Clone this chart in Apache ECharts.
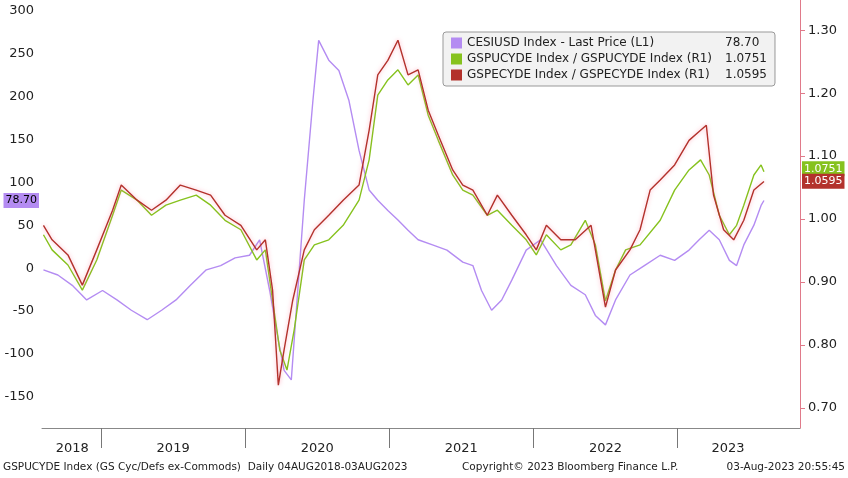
<!DOCTYPE html>
<html><head><meta charset="utf-8">
<script src="https://cdn.jsdelivr.net/npm/echarts@6/dist/echarts.min.js"></script>
<style>html,body{margin:0;padding:0;background:#fff}#c{width:848px;height:478px}</style>
</head><body><div id="c"></div>
<script>
const cesiT=[2018.60,2018.70,2018.80,2018.90,2019.01,2019.11,2019.21,2019.32,2019.42,2019.52,2019.62,2019.73,2019.83,2019.93,2020.03,2020.10,2020.17,2020.23,2020.27,2020.32,2020.36,2020.41,2020.47,2020.51,2020.58,2020.65,2020.72,2020.79,2020.86,2020.92,2020.99,2021.06,2021.13,2021.20,2021.30,2021.40,2021.51,2021.58,2021.64,2021.71,2021.78,2021.85,2021.95,2022.05,2022.16,2022.26,2022.36,2022.43,2022.50,2022.57,2022.67,2022.77,2022.88,2022.98,2023.08,2023.15,2023.22,2023.29,2023.36,2023.41,2023.46,2023.53,2023.58,2023.60];
const cesiV=[-2,-8,-20,-37,-26,-37,-49,-60,-49,-37,-20,-2,3,12,15,33,-26,-84,-119,-130,-37,79,195,265,242,230,195,137,91,79,67,56,44,33,27,21,7,3,-26,-49,-37,-14,21,33,3,-20,-31,-55,-66,-37,-8,3,15,9,21,33,44,33,9,3,27,50,73,78.7];
const cycT=[2018.60,2018.66,2018.77,2018.87,2018.97,2019.08,2019.14,2019.25,2019.35,2019.45,2019.55,2019.66,2019.76,2019.86,2019.97,2020.08,2020.14,2020.19,2020.24,2020.29,2020.34,2020.41,2020.48,2020.58,2020.68,2020.79,2020.86,2020.92,2020.99,2021.06,2021.13,2021.20,2021.27,2021.34,2021.44,2021.51,2021.58,2021.68,2021.75,2021.85,2021.95,2022.02,2022.09,2022.19,2022.26,2022.36,2022.43,2022.50,2022.57,2022.64,2022.74,2022.88,2022.98,2023.08,2023.16,2023.22,2023.29,2023.36,2023.41,2023.46,2023.53,2023.58,2023.60];
const cycV=[0.975,0.951,0.927,0.887,0.935,1.006,1.046,1.030,1.006,1.022,1.030,1.038,1.022,0.998,0.983,0.935,0.951,0.871,0.792,0.760,0.824,0.935,0.959,0.967,0.990,1.030,1.094,1.197,1.221,1.237,1.213,1.229,1.165,1.125,1.070,1.046,1.038,1.006,1.014,0.990,0.967,0.943,0.975,0.951,0.959,0.998,0.959,0.870,0.919,0.951,0.959,0.998,1.046,1.078,1.094,1.070,1.006,0.975,0.990,1.022,1.070,1.086,1.0751];
const euT=[2018.60,2018.66,2018.77,2018.87,2018.97,2019.08,2019.14,2019.25,2019.35,2019.45,2019.55,2019.66,2019.76,2019.86,2019.97,2020.08,2020.14,2020.19,2020.23,2020.27,2020.33,2020.41,2020.48,2020.58,2020.68,2020.79,2020.86,2020.92,2020.99,2021.06,2021.13,2021.20,2021.27,2021.34,2021.44,2021.51,2021.58,2021.68,2021.75,2021.85,2021.95,2022.02,2022.09,2022.19,2022.29,2022.40,2022.50,2022.57,2022.67,2022.74,2022.81,2022.88,2022.98,2023.08,2023.16,2023.20,2023.25,2023.32,2023.39,2023.46,2023.53,2023.60];
const euV=[0.990,0.967,0.943,0.895,0.951,1.014,1.054,1.030,1.014,1.030,1.054,1.046,1.038,1.006,0.990,0.951,0.967,0.887,0.736,0.792,0.871,0.951,0.983,1.006,1.030,1.054,1.141,1.229,1.252,1.284,1.229,1.237,1.173,1.133,1.078,1.054,1.046,1.006,1.038,1.006,0.975,0.951,0.990,0.967,0.967,0.990,0.860,0.919,0.951,0.983,1.046,1.062,1.086,1.125,1.141,1.149,1.038,0.983,0.967,0.998,1.046,1.0595];
const yearTicks=[2019,2020,2021,2022,2023];
const yearLabelPos=[2018.80,2019.5,2020.5,2021.5,2022.5,2023.35];
const leftTicks=[300,250,200,150,100,50,0,-50,-100,-150];
const rightTicks=[1.30,1.20,1.10,1.00,0.90,0.80,0.70];
const names=['CESIUSD Index - Last Price (L1)','GSPUCYDE Index / GSPUCYDE Index (R1)','GSPECYDE Index / GSPECYDE Index (R1)'];
const lastVals=['78.70','1.0751','1.0595'];
const colors=['#b48cf2','#86c21e','#b3322c'];
const zip=(t,v)=>t.map((x,i)=>[x,v[i]]);
const ch=echarts.init(document.getElementById('c'));
function tagLine(val,idx,pos){return {silent:true,symbol:'none',lineStyle:{color:'transparent',width:0},data:[{yAxis:val}],
 label:{show:true,position:pos,distance:idx==0?3:2,formatter:lastVals[idx],backgroundColor:colors[idx],color:idx==0?'#000':'#fff',padding:[2,2],fontSize:11,fontFamily:'DejaVu Sans'}};}
ch.setOption({
 animation:false,
 grid:{left:42,right:48,top:0,bottom:50},
 legend:{orient:'vertical',left:443,top:32,itemWidth:11,itemHeight:11,itemGap:4,icon:'rect',
  backgroundColor:'#f2f2f2',borderColor:'#999',borderWidth:1,borderRadius:3,padding:[5,8],
  textStyle:{fontFamily:'DejaVu Sans',fontSize:12,color:'#222',rich:{n:{width:258,fontFamily:'DejaVu Sans',fontSize:12},v:{fontFamily:'DejaVu Sans',fontSize:12}}},
  formatter:n=>'{n|'+n+'}{v|'+lastVals[names.indexOf(n)]+'}',data:names},
 xAxis:{type:'value',min:2018.59,max:2023.85,
  axisLine:{onZero:false,lineStyle:{color:'#888'}},splitLine:{show:false},
  axisTick:{customValues:yearTicks,length:20,lineStyle:{color:'#777'}},
  axisLabel:{customValues:yearLabelPos,formatter:v=>String(Math.floor(v)),margin:14,fontSize:13,color:'#222',fontFamily:'DejaVu Sans'}},
 yAxis:[{type:'value',min:-186,max:312,position:'left',
   axisLine:{show:false},splitLine:{show:false},axisTick:{show:false},
   axisLabel:{customValues:leftTicks,fontSize:13,color:'#222',fontFamily:'DejaVu Sans'}},
  {type:'value',min:0.668,max:1.348,position:'right',
   axisLine:{show:true,lineStyle:{color:'#e07a8a'}},splitLine:{show:false},
   axisTick:{show:true,customValues:rightTicks,lineStyle:{color:'#e07a8a'}},
   axisLabel:{customValues:rightTicks,formatter:v=>v.toFixed(2),fontSize:13,color:'#222',fontFamily:'DejaVu Sans'}}],
 series:[
  {name:names[0],type:'line',yAxisIndex:0,data:zip(cesiT,cesiV),showSymbol:false,lineStyle:{width:1.4,color:colors[0]},itemStyle:{color:colors[0]},markLine:tagLine(78.7,0,'start')},
  {name:names[1],type:'line',yAxisIndex:1,data:zip(cycT,cycV),showSymbol:false,lineStyle:{width:1.4,color:colors[1]},itemStyle:{color:colors[1]},markLine:tagLine(1.0751,1,'end')},
  {name:names[2],type:'line',yAxisIndex:1,data:zip(euT,euV),showSymbol:false,lineStyle:{width:1.4,color:colors[2],shadowColor:'rgba(255,120,150,0.6)',shadowBlur:4},itemStyle:{color:colors[2]},markLine:tagLine(1.0595,2,'end')}
 ],
 graphic:[
  {type:'text',left:3,top:462,style:{text:'GSPUCYDE Index (GS Cyc/Defs ex-Commods)  Daily 04AUG2018-03AUG2023',fontSize:10.5,fill:'#222',fontFamily:'DejaVu Sans'}},
  {type:'text',left:462,top:462,style:{text:'Copyright\u00a9 2023 Bloomberg Finance L.P.',fontSize:10.5,fill:'#222',fontFamily:'DejaVu Sans'}},
  {type:'text',right:3,top:462,style:{text:'03-Aug-2023 20:55:45',fontSize:10.5,fill:'#222',fontFamily:'DejaVu Sans'}}
 ]
});
</script></body></html>
